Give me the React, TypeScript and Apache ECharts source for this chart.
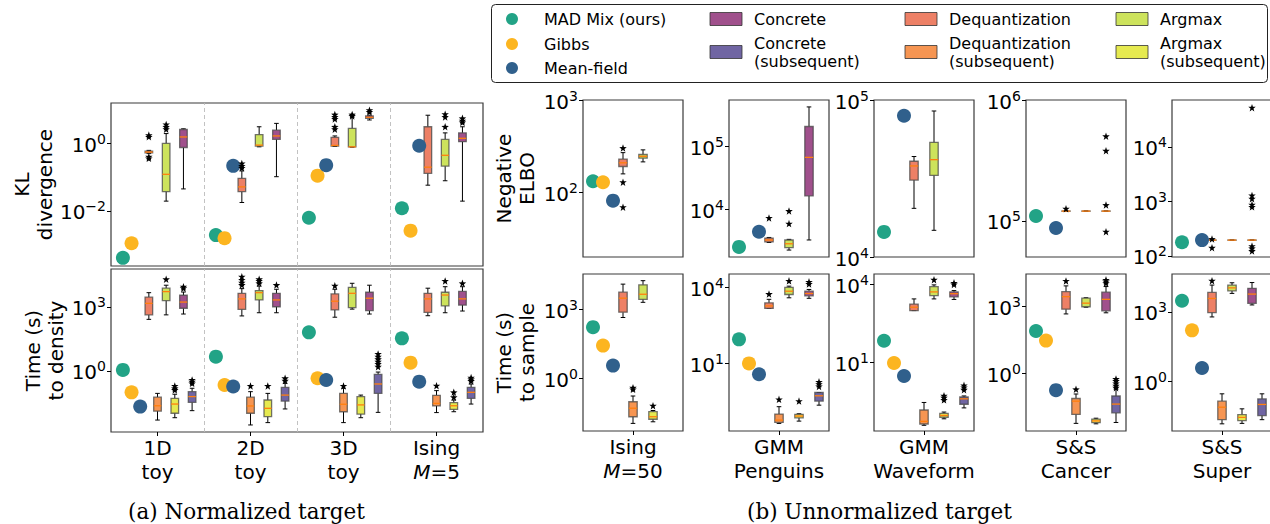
import React, { useEffect, useRef } from 'react';
import * as echarts from 'echarts';

const FONT = 'DejaVu Sans';

// ---------- categories ----------
const normGroups = ['1D\ntoy', '2D\ntoy', '3D\ntoy', 'Ising\nM=5'];
const unnormGroups = ['Ising\nM=50', 'GMM\nPenguins', 'GMM\nWaveform', 'S&S\nCancer', 'S&S\nSuper'];
const legendLabels = [
  'MAD Mix (ours)', 'Gibbs', 'Mean-field',
  'Concrete', 'Concrete\n(subsequent)',
  'Dequantization', 'Dequantization\n(subsequent)',
  'Argmax', 'Argmax\n(subsequent)',
];
const axisTitles = ['KL\ndivergence', 'Time (s)\nto density', 'Negative\nELBO', 'Time (s)\nto sample'];
const captionA = '(a) Normalized target';
const captionB = '(b) Unnormalized target';

// ---------- tick values (log10 exponents) ----------
const klTicks = [-2, 0];
const tdTicks = [0, 3];
const elTicks = [[2, 3], [4, 5], [4, 5], [5, 6], [2, 3, 4]];
const tsTicks = [[0, 3], [1, 4], [1, 4], [0, 3], [0, 3]];
const klRange = [-3.62, 1.18];
const tdRange = [-2.86, 4.78];
const elRange = [[1.3, 3.0], [3.25, 5.74], [4.0, 5.0], [4.7, 6.0], [1.98, 4.86]];
const tsRange = [[-2.29, 4.53], [-1.67, 4.53], [-1.65, 4.4], [-2.57, 4.43], [-2.16, 4.64]];

// ---------- data: all values are log10 ----------
// KL divergence (normalized targets), groups = normGroups
const klMad = [-3.38, -2.71, -2.2, -1.92];
const klGibbs = [-2.95, -2.8, -0.96, -2.58];
const klMf = [null, -0.67, -0.65, -0.08];
// boxes: [low whisker, q1, median, q3, high whisker]
const klDeq = [[-0.31, -0.29, -0.265, -0.235, -0.215], [-1.75, -1.43, -1.29, -1.04, -0.82], [-0.1, -0.09, -0.07, 0.17, 0.21], [-1.24, -0.89, -0.71, 0.48, 0.82]];
const klDeqOut = [[0.235, 0.185, -0.4, -0.45], [-0.6, -0.67, -0.73], [0.84, 0.77, 0.71, 0.48, 0.41], []];
const klArg = [[-1.71, -1.43, -0.92, -0.01, 0.28], [-0.11, -0.09, -0.06, 0.25, 0.48], [-0.12, -0.11, -0.11, 0.43, 0.77], [-1.11, -0.68, -0.36, 0.11, 0.3]];
const klArgOut = [[0.55, 0.48, 0.41], [], [0.84, 0.8], [0.85, 0.77, 0.48]];
const klCon = [[-1.35, -0.13, 0.18, 0.4, 0.42], [-0.99, 0.11, 0.21, 0.38, 0.58], [0.68, 0.73, 0.76, 0.8, 0.82], [-1.71, 0.04, 0.14, 0.3, 0.48]];
const klConOut = [[], [], [0.97, 0.92], [0.73, 0.66, 0.61]];

// Time (s) to density
const tdMad = [0.05, 0.67, 1.81, 1.53];
const tdGibbs = [-1.0, -0.66, -0.34, 0.39];
const tdMf = [-1.67, -0.73, -0.42, -0.5];
const tdDeq = [[2.42, 2.63, 3.17, 3.46, 3.67], [2.58, 2.89, 3.38, 3.64, 3.86], [2.52, 2.86, 3.27, 3.61, 3.83], [2.59, 2.75, 3.38, 3.64, 3.88]];
const tdDeqOut = [[], [4.42, 4.27, 4.14, 4.03], [4.0], []];
const tdArg = [[2.63, 3.3, 3.72, 3.88, 4.02], [2.73, 3.33, 3.67, 3.77, 3.98], [2.9, 2.97, 3.64, 3.92, 4.11], [2.73, 3.05, 3.56, 3.69, 3.95]];
const tdArgOut = [[4.3], [4.3, 4.22, 4.11], [], [4.22]];
const tdCon = [[2.67, 2.94, 3.23, 3.55, 3.7], [2.73, 3.01, 3.33, 3.64, 3.83], [2.67, 2.83, 3.41, 3.69, 4.02], [2.81, 3.09, 3.38, 3.73, 3.95]];
const tdConOut = [[3.95, 3.88], [4.03], [], [4.11]];
const tdDeqSub = [[-2.3, -1.88, -1.63, -1.23, -1.05], [-2.53, -1.98, -1.64, -1.23, -0.97], [-2.42, -1.91, -1.56, -1.05, -0.81], [-1.95, -1.64, -1.52, -1.14, -0.92]];
const tdDeqSubOut = [[], [-0.7], [-0.7], [-0.69]];
const tdArgSub = [[-2.19, -1.98, -1.55, -1.28, -1.09], [-2.42, -2.14, -1.75, -1.36, -1.05], [-2.19, -2.02, -1.59, -1.2, -1.13], [-1.91, -1.8, -1.63, -1.48, -1.36]];
const tdArgSubOut = [[-0.7, -0.81, -0.89], [-0.7], [], [-1.0, -1.23]];
const tdConSub = [[-1.86, -1.47, -1.2, -0.97, -0.81], [-1.78, -1.41, -1.13, -0.77, -0.58], [-1.94, -1.05, -0.61, -0.16, -0.05], [-1.55, -1.28, -1.0, -0.77, -0.61]];
const tdConSubOut = [[-0.42, -0.5, -0.58], [-0.34, -0.45], [0.8, 0.67, 0.55, 0.44, 0.33, 0.2], [-0.31, -0.39, -0.47]];

// Negative ELBO (unnormalized targets), groups = unnormGroups
const elMad = [2.12, 3.41, 4.16, 5.04, 2.25];
const elGibbs = [2.11, null, null, null, null];
const elMf = [1.91, 3.65, 4.9, 4.94, 2.29];
const elDeq = [[2.2, 2.28, 2.32, 2.36, 2.43], [3.48, 3.49, 3.52, 3.55, 3.56], [4.31, 4.49, 4.58, 4.61, 4.64], [5.08, 5.08, 5.08, 5.08, 5.08], [2.29, 2.29, 2.29, 2.29, 2.29]];
const elDeqOut = [[2.48, 2.11, 1.84], [3.87], [], [5.1], [2.31, 2.15]];
const elArg = [[2.33, 2.37, 2.39, 2.41, 2.46], [3.36, 3.4, 3.46, 3.52, 3.53], [4.17, 4.52, 4.62, 4.73, 4.93], [5.08, 5.08, 5.08, 5.08, 5.08], [2.29, 2.29, 2.29, 2.29, 2.29]];
const elArgOut = [[], [3.98, 3.78], [], [], []];
const elCon = [null, [3.52, 4.22, 4.83, 5.32, 5.63], null, [5.08, 5.08, 5.08, 5.08, 5.08], [2.29, 2.29, 2.29, 2.29, 2.29]];
const elConOut = [[], [], [], [5.7, 5.58, 5.13, 4.91], [4.72, 3.11, 3.05, 2.94, 2.9, 2.18, 2.14, 2.09]];

// Time (s) to sample
const tsMad = [2.22, 1.95, 1.83, 1.89, 3.48];
const tsGibbs = [1.42, 1.0, 0.97, 1.46, 2.2];
const tsMf = [0.55, 0.57, 0.47, -0.75, 0.57];
const tsDeq = [[2.64, 2.87, 3.48, 3.74, 4.09], [3.17, 3.17, 3.27, 3.39, 3.53], [2.99, 2.99, 3.12, 3.24, 3.44], [2.65, 2.86, 3.42, 3.64, 3.9], [2.78, 2.97, 3.58, 3.84, 4.16]];
const tsDeqOut = [[], [3.74], [], [4.12], [4.35]];
const tsArg = [[3.3, 3.43, 3.65, 4.06, 4.24], [3.59, 3.72, 3.85, 4.0, 4.05], [3.44, 3.57, 3.71, 3.91, 3.98], [2.95, 2.97, 3.13, 3.35, 3.37], [3.8, 3.91, 4.04, 4.16, 4.26]];
const tsArgOut = [[], [4.26], [4.18], [], []];
const tsCon = [null, [3.57, 3.67, 3.76, 3.85, 3.92], [3.42, 3.52, 3.64, 3.71, 3.76], [2.7, 2.79, 3.3, 3.62, 3.87], [3.3, 3.37, 3.77, 4.02, 4.27]];
const tsConOut = [[], [4.22, 4.14], [4.06, 4.0], [4.17, 4.1, 4.02], []];
const tsDeqSub = [[-1.96, -1.67, -1.3, -1.02, -0.77], [-1.37, -1.33, -1.24, -1.0, -0.71], [-1.43, -1.38, -1.28, -0.84, -0.55], [-2.23, -1.83, -1.24, -1.12, -0.92], [-1.85, -1.67, -1.13, -0.87, -0.55]];
const tsDeqSubOut = [[-0.41, -0.48], [-0.42], [], [-0.71], []];
const tsArgSub = [[-1.89, -1.78, -1.67, -1.45, -1.4], [-1.28, -1.15, -1.08, -1.01, -0.99], [-1.18, -1.12, -1.05, -0.97, -0.92], [-2.25, -2.2, -2.12, -2.04, -2.0], [-1.83, -1.71, -1.57, -1.45, -1.2]];
const tsArgSubOut = [[-1.19], [-0.49], [-0.29, -0.36, -0.45], [], []];
const tsConSub = [null, [-0.65, -0.49, -0.28, -0.15, -0.15], [-0.76, -0.62, -0.41, -0.34, -0.3], [-2.19, -1.76, -1.37, -1.01, -0.7], [-1.67, -1.49, -1.01, -0.77, -0.55]];
const tsConSubOut = [[], [0.27, 0.18, 0.09], [0.11, 0.03, -0.06], [-0.25, -0.34, -0.45, -0.55, -0.64], []];

// ---------- styles ----------
const C = {
  mad: '#22a386', gibbs: '#fcb520', mf: '#30608c',
  con: '#a0508c', conSub: '#7065a3',
  deq: '#ed8066', deqSub: '#f69552',
  arg: '#cde35c', argSub: '#e6ea50',
};
const STAR = 'path://M0,-10 L2.35,-3.24 L9.51,-3.09 L3.8,1.24 L5.88,8.09 L0,4 L-5.88,8.09 L-3.8,1.24 L-9.51,-3.09 L-2.35,-3.24 Z';

type Kind = 'kl' | 'td' | 'el' | 'ts';
function place(kind: Kind, g: number, slot: number) {
  if (kind === 'kl') return { axis: 0, x: g + (slot - 4) * 0.093 };
  if (kind === 'td') return { axis: 1, x: g + (slot - 4) * 0.093 };
  if (kind === 'el') return { axis: 2 + g, x: (slot - 4) * 0.1 };
  return { axis: 7 + g, x: (slot - 4) * 0.1 };
}

function buildSeries() {
  const series: any[] = [];
  const addDots = (kind: Kind, values: (number | null)[], slot: number, color: string) => {
    const by: Record<number, number[][]> = {};
    values.forEach((v, g) => {
      if (v == null) return;
      const p = place(kind, g, slot);
      (by[p.axis] = by[p.axis] || []).push([p.x, v]);
    });
    Object.keys(by).forEach((k) => {
      const a = +k;
      series.push({
        type: 'scatter', xAxisIndex: a, yAxisIndex: a, data: by[a], symbolSize: 14,
        itemStyle: { color, opacity: 1 }, z: 4, silent: true,
      });
    });
  };
  const addBoxes = (kind: Kind, boxes: (number[] | null)[], outs: number[][], slot: number, color: string) => {
    const by: Record<number, number[][]> = {};
    const byOut: Record<number, number[][]> = {};
    boxes.forEach((b, g) => {
      if (!b) return;
      const p = place(kind, g, slot);
      (by[p.axis] = by[p.axis] || []).push([p.x, b[0], b[1], b[2], b[3], b[4]]);
      (outs[g] || []).forEach((o) => { (byOut[p.axis] = byOut[p.axis] || []).push([p.x, o]); });
    });
    const hw = kind === 'kl' || kind === 'td' ? 3.8 : 4.2;
    const cw = 2.3;
    Object.keys(by).forEach((k) => {
      const a = +k;
      series.push({
        type: 'custom', xAxisIndex: a, yAxisIndex: a, data: by[a], z: 3, silent: true, clip: false,
        encode: { x: 0, y: [1, 2, 3, 4, 5] },
        renderItem: (params: any, api: any) => {
          const x = api.value(0);
          const lo = api.coord([x, api.value(1)]);
          const q1 = api.coord([x, api.value(2)]);
          const md = api.coord([x, api.value(3)]);
          const q3 = api.coord([x, api.value(4)]);
          const hi = api.coord([x, api.value(5)]);
          const cx = lo[0];
          const blk = { stroke: '#000', lineWidth: 1 };
          return {
            type: 'group',
            children: [
              { type: 'line', shape: { x1: cx, y1: lo[1], x2: cx, y2: q1[1] }, style: blk },
              { type: 'line', shape: { x1: cx, y1: q3[1], x2: cx, y2: hi[1] }, style: blk },
              { type: 'line', shape: { x1: cx - cw, y1: lo[1], x2: cx + cw, y2: lo[1] }, style: blk },
              { type: 'line', shape: { x1: cx - cw, y1: hi[1], x2: cx + cw, y2: hi[1] }, style: blk },
              {
                type: 'rect', shape: { x: cx - hw, y: q3[1], width: 2 * hw, height: Math.max(q1[1] - q3[1], 0.01) },
                style: { fill: color, stroke: 'rgba(70,70,70,0.75)', lineWidth: 1.3 },
              },
              { type: 'line', shape: { x1: cx - hw, y1: md[1], x2: cx + hw, y2: md[1] }, style: { stroke: '#ff7f0e', lineWidth: 1.3 } },
            ],
          };
        },
      });
    });
    Object.keys(byOut).forEach((k) => {
      const a = +k;
      series.push({
        type: 'scatter', xAxisIndex: a, yAxisIndex: a, data: byOut[a], symbol: STAR, symbolSize: 7.5,
        itemStyle: { color: '#000', opacity: 1 }, z: 5, silent: true,
      });
    });
  };

  // separators for left panels
  [0, 1].forEach((a) => {
    series.push({
      type: 'scatter', xAxisIndex: a, yAxisIndex: a, data: [], silent: true,
      markLine: {
        silent: true, symbol: ['none', 'none'], label: { show: false },
        lineStyle: { type: [4, 3], color: '#bbbbbb', width: 0.9 },
        data: [{ xAxis: 0.5 }, { xAxis: 1.5 }, { xAxis: 2.5 }],
      },
    });
  });

  addBoxes('kl', klDeq, klDeqOut, 3, C.deq);
  addBoxes('kl', klArg, klArgOut, 5, C.arg);
  addBoxes('kl', klCon, klConOut, 7, C.con);
  addDots('kl', klMad, 0, C.mad);
  addDots('kl', klGibbs, 1, C.gibbs);
  addDots('kl', klMf, 2, C.mf);

  addBoxes('td', tdDeq, tdDeqOut, 3, C.deq);
  addBoxes('td', tdDeqSub, tdDeqSubOut, 4, C.deqSub);
  addBoxes('td', tdArg, tdArgOut, 5, C.arg);
  addBoxes('td', tdArgSub, tdArgSubOut, 6, C.argSub);
  addBoxes('td', tdCon, tdConOut, 7, C.con);
  addBoxes('td', tdConSub, tdConSubOut, 8, C.conSub);
  addDots('td', tdMad, 0, C.mad);
  addDots('td', tdGibbs, 1, C.gibbs);
  addDots('td', tdMf, 2, C.mf);

  addBoxes('el', elDeq, elDeqOut, 3, C.deq);
  addBoxes('el', elArg, elArgOut, 5, C.arg);
  addBoxes('el', elCon, elConOut, 7, C.con);
  addDots('el', elMad, 0, C.mad);
  addDots('el', elGibbs, 1, C.gibbs);
  addDots('el', elMf, 2, C.mf);

  addBoxes('ts', tsDeq, tsDeqOut, 3, C.deq);
  addBoxes('ts', tsDeqSub, tsDeqSubOut, 4, C.deqSub);
  addBoxes('ts', tsArg, tsArgOut, 5, C.arg);
  addBoxes('ts', tsArgSub, tsArgSubOut, 6, C.argSub);
  addBoxes('ts', tsCon, tsConOut, 7, C.con);
  addBoxes('ts', tsConSub, tsConSubOut, 8, C.conSub);
  addDots('ts', tsMad, 0, C.mad);
  addDots('ts', tsGibbs, 1, C.gibbs);
  addDots('ts', tsMf, 2, C.mf);
  return series;
}

const tickRich = {
  b: { fontFamily: FONT, fontSize: 20, color: '#000', padding: [3, 0, 0, 0] },
  s: { fontFamily: FONT, fontSize: 14, color: '#000', verticalAlign: 'top' },
};
const catRich = {
  n: { fontFamily: FONT, fontSize: 20, lineHeight: 24, color: '#000' },
  i: { fontFamily: FONT, fontSize: 20, lineHeight: 24, color: '#000', fontStyle: 'italic' },
};
const supText = (v: number) => {
  const r = Math.round(v);
  return `{b|10}{s|${r < 0 ? '\u2212' + Math.abs(r) : r}}`;
};
const catText = (s: string) =>
  s.split('\n').map((line) => (line.startsWith('M=') ? `{i|M}{n|${line.slice(1)}}` : `{n|${line}}`)).join('\n');

function yAxis(idx: number, range: number[], ticks: number[]) {
  return {
    type: 'value', gridIndex: idx, min: range[0], max: range[1], position: 'left',
    splitLine: { show: false }, axisLine: { show: false, onZero: false },
    axisTick: { show: true, customValues: ticks, length: 4, lineStyle: { color: '#000', width: 1 } },
    axisLabel: { show: true, customValues: ticks, margin: 5, formatter: (v: number) => supText(v), rich: tickRich },
  };
}
function xAxis(idx: number, range: number[], ticks: number[] | null, labels: string[] | null) {
  return {
    type: 'value', gridIndex: idx, min: range[0], max: range[1], position: 'bottom',
    splitLine: { show: false }, axisLine: { show: false, onZero: false },
    axisTick: ticks ? { show: true, customValues: ticks, length: 4, lineStyle: { color: '#000', width: 1 } } : { show: false },
    axisLabel: ticks && labels
      ? { show: true, customValues: ticks, margin: 4, formatter: (v: number) => catText(labels[Math.round(v)] ?? ''), rich: catRich }
      : { show: false },
  };
}

export default function App() {
  const ref = useRef<HTMLDivElement>(null);
  useEffect(() => {
    if (!ref.current) return;
    const chart = echarts.init(ref.current, null, { renderer: 'svg' });
    const border = { show: true, borderColor: '#3a3a3a', borderWidth: 1.2, backgroundColor: 'transparent', outerBoundsMode: 'none' };
    const rightLefts = [583, 729, 874, 1026, 1172];
    const grids: any[] = [
      { left: 111, top: 103, width: 372, height: 163, ...border },
      { left: 111, top: 269, width: 372, height: 163, ...border },
      ...rightLefts.map((l) => ({ left: l, top: 100, width: 100, height: 157, ...border })),
      ...rightLefts.map((l) => ({ left: l, top: 274, width: 100, height: 157, ...border })),
    ];
    const xAxes: any[] = [
      xAxis(0, [-0.5, 3.5], null, null),
      xAxis(1, [-0.5, 3.5], [0, 1, 2, 3], normGroups),
      ...rightLefts.map((_, g) => xAxis(2 + g, [-0.5, 0.5], null, null)),
      ...rightLefts.map((_, g) => xAxis(7 + g, [-0.5, 0.5], [0], [unnormGroups[g]])),
    ];
    const yAxes: any[] = [
      yAxis(0, klRange, klTicks),
      yAxis(1, tdRange, tdTicks),
      ...rightLefts.map((_, g) => yAxis(2 + g, elRange[g], elTicks[g])),
      ...rightLefts.map((_, g) => yAxis(7 + g, tsRange[g], tsTicks[g])),
    ];

    const graphics: any[] = [];
    // y-axis titles (rotated)
    const titlePos = [[33, 184.5], [44, 350.5], [515.5, 178.5], [515.5, 352.5]];
    axisTitles.forEach((t, i) => {
      graphics.push({
        type: 'text', x: titlePos[i][0], y: titlePos[i][1], rotation: Math.PI / 2,
        style: { text: t, font: `20px "${FONT}"`, lineHeight: 23, fill: '#000', align: 'center', verticalAlign: 'middle', textAlign: 'center', textVerticalAlign: 'middle' },
      });
    });

    // legend (graphic)
    const legendColors = [C.mad, C.gibbs, C.mf, C.con, C.conSub, C.deq, C.deqSub, C.arg, C.argSub];
    const legendPos = [
      [512, 19], [512, 44], [512, 68],
      [710, 19], [710, 52], [905, 19], [905, 52], [1116, 19], [1116, 52],
    ];
    graphics.push({ type: 'rect', shape: { x: 491.5, y: 4.5, width: 776, height: 78, r: 4 }, style: { fill: '#fff', stroke: '#222', lineWidth: 1 }, z: 0 });
    legendLabels.forEach((lab, i) => {
      const [px, py] = legendPos[i];
      if (i < 3) {
        graphics.push({ type: 'circle', shape: { cx: px, cy: py, r: 6 }, style: { fill: legendColors[i] }, z: 1 });
        graphics.push({ type: 'text', x: 544, y: py, style: { text: lab, font: `16px "${FONT}"`, fill: '#000', textVerticalAlign: 'middle', verticalAlign: 'middle' }, z: 1 });
      } else {
        graphics.push({ type: 'rect', shape: { x: px, y: py - 6.5, width: 32, height: 13 }, style: { fill: legendColors[i], stroke: '#333', lineWidth: 0.8 }, z: 1 });
        graphics.push({ type: 'text', x: px + 44, y: py, style: { text: lab, font: `16px "${FONT}"`, lineHeight: 18, fill: '#000', verticalAlign: 'middle', textVerticalAlign: 'middle' }, z: 1 });
      }
    });
    graphics.push({ type: 'text', x: 128, y: 511, style: { text: captionA, font: '21.5px "DejaVu Serif"', fill: '#000', verticalAlign: 'middle', textVerticalAlign: 'middle' } });
    graphics.push({ type: 'text', x: 747, y: 511, style: { text: captionB, font: '21.5px "DejaVu Serif"', fill: '#000', verticalAlign: 'middle', textVerticalAlign: 'middle' } });

    chart.setOption({
      animation: false,
      backgroundColor: '#fff',
      textStyle: { fontFamily: FONT },
      grid: grids,
      xAxis: xAxes,
      yAxis: yAxes,
      series: buildSeries(),
      graphic: graphics,
    });
    return () => chart.dispose();
  }, []);
  return <div ref={ref} style={{ position: 'absolute', left: 0, top: 0, width: 1270, height: 524, background: '#fff' }} />;
}
